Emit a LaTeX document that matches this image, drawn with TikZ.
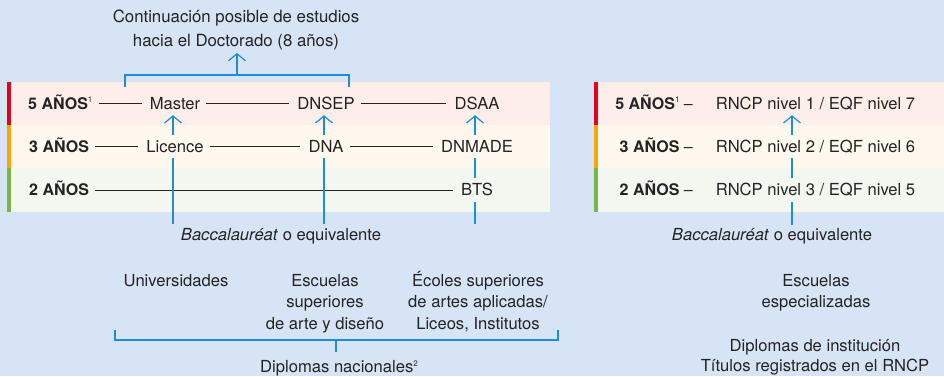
\documentclass[tikz,border=0pt]{standalone}
\usepackage{fontspec}
\setmainfont{TeX Gyre Heros}
\usetikzlibrary{arrows.meta}
\definecolor{bgblue}{RGB}{214,228,245}
\definecolor{bandp}{RGB}{253,238,234}
\definecolor{bandc}{RGB}{254,248,238}
\definecolor{bandg}{RGB}{243,247,239}
\definecolor{barr}{RGB}{226,0,26}
\definecolor{baro}{RGB}{247,168,0}
\definecolor{barg}{RGB}{122,181,72}
\definecolor{blu}{RGB}{28,142,214}
\definecolor{ink}{RGB}{35,35,35}
\newcommand{\supnum}[1]{\raisebox{6.5pt}{\fontsize{8}{8}\mdseries\selectfont #1}}
\tikzset{
  txt/.style={font=\fontsize{16.6}{21.5}\selectfont, text=ink},
  rowtxt/.style={txt, text height=11.85pt, text depth=0pt, inner ysep=5.6pt, inner xsep=0pt},
  onetxt/.style={txt, text height=11.85pt, text depth=0pt, inner sep=0pt},
  yr/.style={font=\fontsize{16}{20}\bfseries\selectfont, text=ink, text height=11.6pt, text depth=0pt, inner sep=0pt},
  conn/.style={draw=ink, line width=0.9pt, shorten <=6pt, shorten >=8pt},
  bl/.style={draw=blu, line width=1.2pt},
  bla/.style={bl, -{Straight Barb[length=7pt,width=17pt,line width=1.2pt]}},
  mtxt/.style={txt, align=center, anchor=north, inner sep=0pt},
}
\begin{document}
\begin{tikzpicture}[x=1pt,y=-1pt]
\useasboundingbox (0,0) rectangle (944,376);
\fill[bgblue] (0,0) rectangle (944,376);
% left bands
\fill[bandp] (7,82) rectangle (550,125);
\fill[bandc] (7,125) rectangle (550,168);
\fill[bandg] (7,168) rectangle (550,212);
\fill[barr] (7,82) rectangle (10.5,125);
\fill[baro] (7,125) rectangle (10.5,168);
\fill[barg] (7,168) rectangle (10.5,212);
% right bands
\fill[bandp] (594,82) rectangle (944,125);
\fill[bandc] (594,125) rectangle (944,168);
\fill[bandg] (594,168) rectangle (944,212);
\fill[barr] (594,82) rectangle (597.5,125);
\fill[baro] (594,125) rectangle (597.5,168);
\fill[barg] (594,168) rectangle (597.5,212);

% top text and bracket
\node[mtxt, font=\fontsize{16.8}{24}\selectfont] (cont) at (236,5.6) {\strut Continuación posible de estudios\\hacia el Doctorado (8 años)};
\coordinate (tl) at (125,87);
\coordinate (tr) at (349,87);
\coordinate (stem) at (237,75);
\coordinate (tip) at (237,53);
\draw[bl] (tl) -- ++(0,-12) -| (tr);
\draw[bla] (stem) -- (tip);

% left rows
\node[yr, anchor=west] (l5) at (28,103.5) {5 AÑOS\supnum{1}};
\node[rowtxt] (ma) at (175,103.5) {Master};
\node[rowtxt] (dnsep) at (326,103.5) {DNSEP};
\node[rowtxt] (dsaa) at (477,103.5) {DSAA};
\node[yr, anchor=west] (l3) at (29,146.5) {3 AÑOS};
\node[rowtxt] (lic) at (175,146.5) {Licence};
\node[rowtxt] (dna) at (326,146.5) {DNA};
\node[rowtxt] (dnm) at (477,146.5) {DNMADE};
\node[yr, anchor=west] (l2) at (29,190) {2 AÑOS};
\node[rowtxt] (bts) at (477,190) {BTS};

\draw[conn] (l5.east) -- (ma.west);
\draw[conn] (ma.east) -- (dnsep.west);
\draw[conn] (dnsep.east) -- (dsaa.west);
\draw[conn] (l3.east) -- (lic.west);
\draw[conn] (lic.east) -- (dna.west);
\draw[conn] (dna.east) -- (dnm.west);
\draw[conn] (l2.east) -- (bts.west);

% left blue columns
\coordinate (c1) at (173,224);
\coordinate (c2) at (324,224);
\coordinate (c3) at (475,224);
\draw[bl] (c1) -- (c1 |- lic.south);
\draw[bla] (c1 |- lic.north) -- (c1 |- ma.south);
\draw[bl] (c2) -- (c2 |- dna.south);
\draw[bla] (c2 |- dna.north) -- (c2 |- dnsep.south);
\draw[bl] (c3) -- (c3 |- bts.south);
\draw[bl] (c3 |- bts.north) -- (c3 |- dnm.south);
\draw[bla] (c3 |- dnm.north) -- (c3 |- dsaa.south);

\node[onetxt] (bac) at (281,235) {\textit{Baccalauréat} o equivalente};

% bottom left
\node[mtxt] (uni) at (176,270.9) {\strut Universidades};
\node[mtxt] (esc) at (325,270.9) {\strut Escuelas\\superiores\\de arte y diseño};
\node[mtxt] (eco) at (478,270.9) {\strut Écoles superiores\\de artes aplicadas/\\Liceos, Institutos};
\coordinate (bb1) at (115,330);
\coordinate (bb2) at (558,330);
\coordinate (bst) at (336,340);
\coordinate (bsend) at (336,352);
\draw[bl] (bb1) -- ++(0,10) -| (bb2);
\draw[bl] (bst) -- (bsend);
\node[onetxt] (dn) at (339,367) {Diplomas nacionales\supnum{2}};

% right panel
\node[yr, anchor=east] (r5l) at (693,103.5) {5 AÑOS\supnum{1} {\mdseries –}};
\node[yr, anchor=east] (r3l) at (693,146.5) {3 AÑOS {\mdseries –}};
\node[yr, anchor=east] (r2l) at (693,190) {2 AÑOS {\mdseries –}};
\node[rowtxt] (r1) at (815.5,103.5) {RNCP nivel 1 / EQF nivel 7};
\node[rowtxt] (r2) at (815.5,146.5) {RNCP nivel 2 / EQF nivel 6};
\node[rowtxt] (r3) at (815.5,190) {RNCP nivel 3 / EQF nivel 5};
\coordinate (rc) at (792,225);
\draw[bl] (rc) -- (rc |- r3.south);
\draw[bl] (rc |- r3.north) -- (rc |- r2.south);
\draw[bla] (rc |- r2.north) -- (rc |- r1.south);
\node[onetxt] (bacr) at (772,235) {\textit{Baccalauréat} o equivalente};
\node[mtxt] (ee) at (816,270.9) {\strut Escuelas\\especializadas};
\node[mtxt, font=\fontsize{16.6}{20.5}\selectfont] (dinst) at (815,336.6) {\strut Diplomas de institución\\Títulos registrados en el RNCP};
\end{tikzpicture}
\end{document}
